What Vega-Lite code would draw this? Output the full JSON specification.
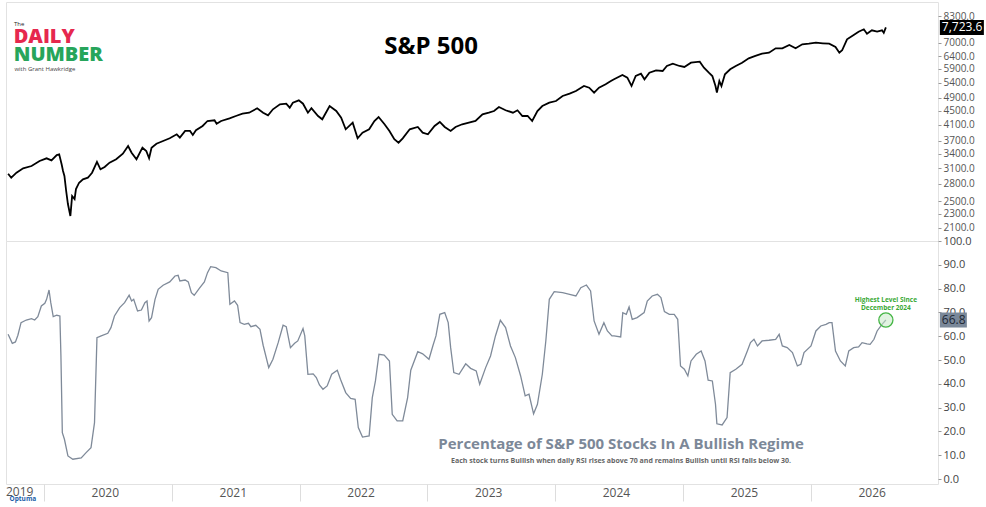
{
  "$schema": "https://vega.github.io/schema/vega-lite/v6.json",
  "padding": {"left": 3, "top": 1, "right": 0, "bottom": 0},
  "background": "white",
  "spacing": 0,
  "bounds": "flush",
  "config": {
    "font": "Open Sans",
    "view": {"stroke": "#e2e2e2"},
    "axis": {"grid": false, "domain": false, "title": null, "labelOverlap": false},
    "concat": {"spacing": 0}
  },
  "resolve": {"scale": {"x": "independent", "y": "independent"}},
  "datasets": {
    "spx": [
      {"date": "2019-09-21", "value": 2988}, {"date": "2019-09-30", "value": 2911}, {"date": "2019-10-15", "value": 3007},
      {"date": "2019-11-03", "value": 3094}, {"date": "2019-11-27", "value": 3141}, {"date": "2019-12-20", "value": 3245},
      {"date": "2020-01-09", "value": 3302}, {"date": "2020-01-23", "value": 3259}, {"date": "2020-02-07", "value": 3373},
      {"date": "2020-02-14", "value": 3389}, {"date": "2020-02-21", "value": 3176}, {"date": "2020-02-25", "value": 3041},
      {"date": "2020-02-29", "value": 2944}, {"date": "2020-03-05", "value": 2670}, {"date": "2020-03-10", "value": 2454},
      {"date": "2020-03-17", "value": 2270}, {"date": "2020-03-22", "value": 2585}, {"date": "2020-03-29", "value": 2535},
      {"date": "2020-04-02", "value": 2705}, {"date": "2020-04-11", "value": 2818}, {"date": "2020-04-22", "value": 2881},
      {"date": "2020-05-06", "value": 2911}, {"date": "2020-05-18", "value": 3007}, {"date": "2020-06-01", "value": 3224},
      {"date": "2020-06-11", "value": 3074}, {"date": "2020-06-23", "value": 3121}, {"date": "2020-07-07", "value": 3209},
      {"date": "2020-07-26", "value": 3281}, {"date": "2020-08-14", "value": 3402}, {"date": "2020-08-29", "value": 3576},
      {"date": "2020-09-08", "value": 3424}, {"date": "2020-09-22", "value": 3281}, {"date": "2020-10-09", "value": 3537},
      {"date": "2020-10-20", "value": 3462}, {"date": "2020-10-28", "value": 3302}, {"date": "2020-11-04", "value": 3537},
      {"date": "2020-11-18", "value": 3630}, {"date": "2020-12-07", "value": 3695}, {"date": "2020-12-26", "value": 3760},
      {"date": "2021-01-15", "value": 3859}, {"date": "2021-01-24", "value": 3775}, {"date": "2021-02-08", "value": 3943},
      {"date": "2021-02-22", "value": 3943}, {"date": "2021-03-02", "value": 3842}, {"date": "2021-03-11", "value": 3961},
      {"date": "2021-03-30", "value": 4073}, {"date": "2021-04-13", "value": 4207}, {"date": "2021-05-03", "value": 4226},
      {"date": "2021-05-09", "value": 4134}, {"date": "2021-05-22", "value": 4207}, {"date": "2021-06-15", "value": 4281},
      {"date": "2021-07-03", "value": 4346}, {"date": "2021-07-22", "value": 4411}, {"date": "2021-08-10", "value": 4440},
      {"date": "2021-09-02", "value": 4569}, {"date": "2021-09-19", "value": 4440}, {"date": "2021-10-03", "value": 4366},
      {"date": "2021-10-17", "value": 4539}, {"date": "2021-11-06", "value": 4689}, {"date": "2021-11-24", "value": 4707},
      {"date": "2021-12-04", "value": 4586}, {"date": "2021-12-13", "value": 4738}, {"date": "2021-12-30", "value": 4812},
      {"date": "2022-01-11", "value": 4707}, {"date": "2022-01-25", "value": 4440}, {"date": "2022-02-04", "value": 4569},
      {"date": "2022-02-23", "value": 4346}, {"date": "2022-03-07", "value": 4254}, {"date": "2022-03-28", "value": 4637},
      {"date": "2022-04-16", "value": 4489}, {"date": "2022-04-30", "value": 4298}, {"date": "2022-05-13", "value": 3986},
      {"date": "2022-06-02", "value": 4161}, {"date": "2022-06-16", "value": 3760}, {"date": "2022-06-30", "value": 3899},
      {"date": "2022-07-19", "value": 3986}, {"date": "2022-08-03", "value": 4207}, {"date": "2022-08-15", "value": 4318},
      {"date": "2022-09-01", "value": 4118}, {"date": "2022-09-15", "value": 3943}, {"date": "2022-09-29", "value": 3736},
      {"date": "2022-10-11", "value": 3654}, {"date": "2022-10-23", "value": 3760}, {"date": "2022-11-12", "value": 3986},
      {"date": "2022-12-05", "value": 4046}, {"date": "2022-12-19", "value": 3899}, {"date": "2023-01-03", "value": 3859},
      {"date": "2023-01-22", "value": 4073}, {"date": "2023-02-06", "value": 4180}, {"date": "2023-02-20", "value": 4046},
      {"date": "2023-03-09", "value": 3943}, {"date": "2023-03-23", "value": 4046}, {"date": "2023-04-11", "value": 4118},
      {"date": "2023-04-30", "value": 4161}, {"date": "2023-05-19", "value": 4207}, {"date": "2023-06-08", "value": 4394},
      {"date": "2023-06-26", "value": 4440}, {"date": "2023-07-11", "value": 4489}, {"date": "2023-07-25", "value": 4607},
      {"date": "2023-08-13", "value": 4510}, {"date": "2023-09-03", "value": 4440}, {"date": "2023-09-16", "value": 4510},
      {"date": "2023-09-30", "value": 4346}, {"date": "2023-10-15", "value": 4346}, {"date": "2023-10-28", "value": 4207},
      {"date": "2023-11-12", "value": 4489}, {"date": "2023-11-26", "value": 4637}, {"date": "2023-12-16", "value": 4738},
      {"date": "2024-01-04", "value": 4790}, {"date": "2024-01-23", "value": 4948}, {"date": "2024-02-12", "value": 5023},
      {"date": "2024-03-01", "value": 5112}, {"date": "2024-03-24", "value": 5281}, {"date": "2024-04-08", "value": 5222},
      {"date": "2024-04-22", "value": 5056}, {"date": "2024-05-06", "value": 5222}, {"date": "2024-05-25", "value": 5339},
      {"date": "2024-06-09", "value": 5455}, {"date": "2024-06-18", "value": 5515}, {"date": "2024-07-12", "value": 5671},
      {"date": "2024-07-26", "value": 5573}, {"date": "2024-08-07", "value": 5281}, {"date": "2024-08-19", "value": 5635},
      {"date": "2024-09-03", "value": 5719}, {"date": "2024-09-13", "value": 5515}, {"date": "2024-09-27", "value": 5757},
      {"date": "2024-10-16", "value": 5847}, {"date": "2024-11-04", "value": 5821}, {"date": "2024-11-16", "value": 6013},
      {"date": "2024-12-03", "value": 6103}, {"date": "2024-12-22", "value": 6013}, {"date": "2025-01-05", "value": 5974},
      {"date": "2025-01-24", "value": 6143}, {"date": "2025-02-18", "value": 6183}, {"date": "2025-03-02", "value": 5947},
      {"date": "2025-03-16", "value": 5757}, {"date": "2025-03-26", "value": 5635}, {"date": "2025-04-04", "value": 5281},
      {"date": "2025-04-08", "value": 5056}, {"date": "2025-04-15", "value": 5455}, {"date": "2025-04-21", "value": 5281},
      {"date": "2025-05-01", "value": 5697}, {"date": "2025-05-16", "value": 5885}, {"date": "2025-06-01", "value": 6013},
      {"date": "2025-06-19", "value": 6143}, {"date": "2025-07-08", "value": 6321}, {"date": "2025-07-27", "value": 6417},
      {"date": "2025-08-15", "value": 6513}, {"date": "2025-09-04", "value": 6555}, {"date": "2025-09-23", "value": 6745},
      {"date": "2025-10-12", "value": 6745}, {"date": "2025-11-01", "value": 6891}, {"date": "2025-11-19", "value": 6745},
      {"date": "2025-12-08", "value": 6923}, {"date": "2025-12-27", "value": 6950}, {"date": "2026-01-16", "value": 6995},
      {"date": "2026-02-05", "value": 6968}, {"date": "2026-02-23", "value": 6950}, {"date": "2026-03-13", "value": 6802},
      {"date": "2026-03-24", "value": 6555}, {"date": "2026-04-01", "value": 6658}, {"date": "2026-04-15", "value": 7151},
      {"date": "2026-05-04", "value": 7353}, {"date": "2026-05-18", "value": 7513}, {"date": "2026-06-02", "value": 7631},
      {"date": "2026-06-11", "value": 7416}, {"date": "2026-06-25", "value": 7582}, {"date": "2026-07-10", "value": 7513},
      {"date": "2026-07-24", "value": 7582}, {"date": "2026-07-29", "value": 7453}, {"date": "2026-08-04", "value": 7723.6}
    ],
    "bull": [
      {"date": "2019-09-21", "value": 60.8}, {"date": "2019-10-03", "value": 57.0}, {"date": "2019-10-12", "value": 57.6},
      {"date": "2019-10-19", "value": 60.4}, {"date": "2019-10-28", "value": 65.7}, {"date": "2019-11-12", "value": 66.8},
      {"date": "2019-11-27", "value": 67.4}, {"date": "2019-12-06", "value": 66.8}, {"date": "2019-12-15", "value": 68.2},
      {"date": "2019-12-25", "value": 72.7}, {"date": "2020-01-04", "value": 73.8}, {"date": "2020-01-09", "value": 75.5},
      {"date": "2020-01-16", "value": 79.4}, {"date": "2020-01-21", "value": 74.1}, {"date": "2020-01-28", "value": 68.2},
      {"date": "2020-02-07", "value": 68.8}, {"date": "2020-02-16", "value": 68.5}, {"date": "2020-02-19", "value": 51.7},
      {"date": "2020-02-23", "value": 19.5}, {"date": "2020-02-29", "value": 16.7}, {"date": "2020-03-10", "value": 9.7},
      {"date": "2020-03-24", "value": 8.3}, {"date": "2020-04-17", "value": 8.9}, {"date": "2020-05-01", "value": 11.1},
      {"date": "2020-05-15", "value": 13.2}, {"date": "2020-05-25", "value": 23.7}, {"date": "2020-06-01", "value": 59.4},
      {"date": "2020-06-13", "value": 60.1}, {"date": "2020-07-02", "value": 61.2}, {"date": "2020-07-11", "value": 63.6},
      {"date": "2020-07-21", "value": 68.5}, {"date": "2020-08-05", "value": 72.0}, {"date": "2020-08-19", "value": 74.1},
      {"date": "2020-09-01", "value": 77.2}, {"date": "2020-09-08", "value": 74.8}, {"date": "2020-09-14", "value": 75.5},
      {"date": "2020-09-25", "value": 70.6}, {"date": "2020-10-06", "value": 71.0}, {"date": "2020-10-16", "value": 74.1},
      {"date": "2020-10-22", "value": 74.8}, {"date": "2020-10-28", "value": 66.4}, {"date": "2020-11-04", "value": 67.8},
      {"date": "2020-11-14", "value": 75.5}, {"date": "2020-11-23", "value": 79.7}, {"date": "2020-12-07", "value": 81.4},
      {"date": "2020-12-26", "value": 82.8}, {"date": "2021-01-10", "value": 85.3}, {"date": "2021-01-19", "value": 85.6},
      {"date": "2021-01-24", "value": 83.2}, {"date": "2021-02-08", "value": 83.6}, {"date": "2021-02-17", "value": 82.8},
      {"date": "2021-02-26", "value": 78.3}, {"date": "2021-03-06", "value": 77.2}, {"date": "2021-03-20", "value": 80.0},
      {"date": "2021-04-04", "value": 82.8}, {"date": "2021-04-13", "value": 86.7}, {"date": "2021-04-22", "value": 89.2},
      {"date": "2021-05-07", "value": 88.8}, {"date": "2021-05-22", "value": 87.4}, {"date": "2021-06-10", "value": 86.7},
      {"date": "2021-06-16", "value": 73.4}, {"date": "2021-06-29", "value": 74.8}, {"date": "2021-07-08", "value": 73.0},
      {"date": "2021-07-15", "value": 65.7}, {"date": "2021-07-27", "value": 65.0}, {"date": "2021-08-08", "value": 65.4},
      {"date": "2021-08-15", "value": 64.0}, {"date": "2021-08-29", "value": 64.6}, {"date": "2021-09-10", "value": 62.9},
      {"date": "2021-09-19", "value": 56.2}, {"date": "2021-10-05", "value": 46.8}, {"date": "2021-10-17", "value": 50.3},
      {"date": "2021-11-01", "value": 57.3}, {"date": "2021-11-15", "value": 64.6}, {"date": "2021-11-24", "value": 64.0},
      {"date": "2021-12-06", "value": 55.2}, {"date": "2021-12-18", "value": 57.0}, {"date": "2021-12-27", "value": 58.0},
      {"date": "2022-01-11", "value": 63.2}, {"date": "2022-01-16", "value": 60.1}, {"date": "2022-01-25", "value": 44.0},
      {"date": "2022-02-09", "value": 44.2}, {"date": "2022-02-18", "value": 42.6}, {"date": "2022-02-27", "value": 39.5},
      {"date": "2022-03-09", "value": 37.7}, {"date": "2022-03-21", "value": 39.1}, {"date": "2022-04-03", "value": 44.0},
      {"date": "2022-04-19", "value": 45.7}, {"date": "2022-04-28", "value": 41.9}, {"date": "2022-05-13", "value": 36.3},
      {"date": "2022-05-27", "value": 33.9}, {"date": "2022-06-09", "value": 33.5}, {"date": "2022-06-18", "value": 21.6},
      {"date": "2022-06-30", "value": 17.6}, {"date": "2022-07-19", "value": 18.1}, {"date": "2022-07-28", "value": 34.2},
      {"date": "2022-08-06", "value": 41.2}, {"date": "2022-08-16", "value": 52.4}, {"date": "2022-08-31", "value": 52.1},
      {"date": "2022-09-15", "value": 49.6}, {"date": "2022-09-23", "value": 27.2}, {"date": "2022-10-07", "value": 24.4},
      {"date": "2022-10-23", "value": 24.4}, {"date": "2022-11-06", "value": 34.2}, {"date": "2022-11-15", "value": 45.7},
      {"date": "2022-12-05", "value": 53.5}, {"date": "2022-12-19", "value": 52.6}, {"date": "2023-01-06", "value": 50.3},
      {"date": "2023-01-17", "value": 55.9}, {"date": "2023-01-26", "value": 60.1}, {"date": "2023-02-06", "value": 69.2},
      {"date": "2023-02-20", "value": 69.9}, {"date": "2023-03-02", "value": 65.7}, {"date": "2023-03-09", "value": 55.2},
      {"date": "2023-03-18", "value": 44.7}, {"date": "2023-04-02", "value": 44.0}, {"date": "2023-04-21", "value": 48.4},
      {"date": "2023-05-05", "value": 46.5}, {"date": "2023-05-21", "value": 45.4}, {"date": "2023-05-31", "value": 39.8},
      {"date": "2023-06-17", "value": 46.8}, {"date": "2023-07-01", "value": 51.7}, {"date": "2023-07-15", "value": 60.1},
      {"date": "2023-07-29", "value": 66.7}, {"date": "2023-08-13", "value": 63.6}, {"date": "2023-08-27", "value": 55.9},
      {"date": "2023-09-10", "value": 51.0}, {"date": "2023-09-25", "value": 43.3}, {"date": "2023-10-08", "value": 34.9},
      {"date": "2023-10-19", "value": 35.6}, {"date": "2023-11-01", "value": 27.4}, {"date": "2023-11-12", "value": 31.4},
      {"date": "2023-11-26", "value": 44.0}, {"date": "2023-12-06", "value": 58.0}, {"date": "2023-12-16", "value": 75.5},
      {"date": "2023-12-30", "value": 78.7}, {"date": "2024-01-23", "value": 78.3}, {"date": "2024-02-12", "value": 77.6},
      {"date": "2024-03-01", "value": 76.9}, {"date": "2024-03-15", "value": 80.4}, {"date": "2024-03-31", "value": 81.5},
      {"date": "2024-04-12", "value": 79.0}, {"date": "2024-04-22", "value": 66.4}, {"date": "2024-05-06", "value": 60.8},
      {"date": "2024-05-20", "value": 65.7}, {"date": "2024-05-30", "value": 62.2}, {"date": "2024-06-12", "value": 60.1},
      {"date": "2024-06-18", "value": 60.1}, {"date": "2024-07-07", "value": 59.7}, {"date": "2024-07-13", "value": 69.9},
      {"date": "2024-07-23", "value": 69.2}, {"date": "2024-07-31", "value": 72.3}, {"date": "2024-08-09", "value": 67.1},
      {"date": "2024-08-23", "value": 67.8}, {"date": "2024-09-12", "value": 69.9}, {"date": "2024-09-21", "value": 74.8},
      {"date": "2024-10-05", "value": 76.9}, {"date": "2024-10-20", "value": 77.6}, {"date": "2024-10-30", "value": 76.2},
      {"date": "2024-11-09", "value": 70.3}, {"date": "2024-11-23", "value": 69.2}, {"date": "2024-12-07", "value": 69.2},
      {"date": "2024-12-17", "value": 67.1}, {"date": "2024-12-25", "value": 47.5}, {"date": "2025-01-05", "value": 46.1},
      {"date": "2025-01-15", "value": 43.3}, {"date": "2025-01-24", "value": 49.6}, {"date": "2025-02-08", "value": 52.4},
      {"date": "2025-02-22", "value": 53.8}, {"date": "2025-03-05", "value": 49.6}, {"date": "2025-03-14", "value": 41.5},
      {"date": "2025-03-26", "value": 41.2}, {"date": "2025-04-04", "value": 31.4}, {"date": "2025-04-08", "value": 23.2},
      {"date": "2025-04-23", "value": 22.7}, {"date": "2025-05-07", "value": 25.8}, {"date": "2025-05-16", "value": 44.7},
      {"date": "2025-06-01", "value": 46.1}, {"date": "2025-06-19", "value": 48.2}, {"date": "2025-07-04", "value": 53.8},
      {"date": "2025-07-13", "value": 57.3}, {"date": "2025-07-23", "value": 58.7}, {"date": "2025-08-02", "value": 55.9},
      {"date": "2025-08-15", "value": 58.0}, {"date": "2025-09-04", "value": 58.3}, {"date": "2025-09-23", "value": 58.7},
      {"date": "2025-10-03", "value": 60.8}, {"date": "2025-10-12", "value": 55.9}, {"date": "2025-10-26", "value": 55.2},
      {"date": "2025-11-10", "value": 53.1}, {"date": "2025-11-24", "value": 47.5}, {"date": "2025-12-04", "value": 48.2},
      {"date": "2025-12-13", "value": 53.1}, {"date": "2026-01-02", "value": 55.9}, {"date": "2026-01-16", "value": 62.2},
      {"date": "2026-01-30", "value": 64.3}, {"date": "2026-02-14", "value": 65.0}, {"date": "2026-02-23", "value": 65.7},
      {"date": "2026-03-03", "value": 65.7}, {"date": "2026-03-13", "value": 53.8}, {"date": "2026-03-27", "value": 49.6},
      {"date": "2026-04-10", "value": 47.5}, {"date": "2026-04-20", "value": 53.8}, {"date": "2026-05-04", "value": 55.2},
      {"date": "2026-05-18", "value": 55.5}, {"date": "2026-05-28", "value": 57.3}, {"date": "2026-06-11", "value": 56.8},
      {"date": "2026-06-20", "value": 56.6}, {"date": "2026-07-01", "value": 58.7}, {"date": "2026-07-10", "value": 62.2},
      {"date": "2026-07-24", "value": 65.0}, {"date": "2026-08-04", "value": 66.8}
    ]
  },
  "vconcat": [
    {
      "width": 932,
      "height": 239,
      "layer": [
        {
          "data": {"name": "spx"},
          "mark": {"type": "line", "color": "#000000", "strokeWidth": 1.8},
          "encoding": {
            "x": {"field": "date", "type": "temporal",
                  "scale": {"domain": [{"year": 2019, "month": 9, "date": 15}, {"year": 2026, "month": 12, "date": 31}]},
                  "axis": null},
            "y": {"field": "value", "type": "quantitative",
                  "scale": {"type": "log", "domain": [1930, 9110], "nice": false},
                  "axis": {"orient": "right", "values": [2100, 2300, 2500, 2800, 3100, 3400, 3700, 4100, 4500, 4900, 5400, 5900, 6400, 7000, 8300],
                           "format": ".1f", "labelFontSize": 10, "labelColor": "#555555", "tickSize": 3, "tickColor": "#999999", "labelPadding": 2,
                           "labelOverlap": false, "labelSeparation": 0}}
          }
        },
        {
          "data": {"name": "spx"},
          "transform": [{"filter": "datum.value == 7723.6"}],
          "mark": {"type": "point", "shape": "M5.4,-0.75H9.8V0.75H5.4Z", "size": 400, "filled": true, "fill": "#000000", "strokeWidth": 0, "opacity": 1},
          "encoding": {"x": {"field": "date", "type": "temporal"}, "y": {"field": "value", "type": "quantitative"}}
        },
        {
          "data": {"name": "spx"},
          "transform": [{"filter": "datum.value == 7723.6"}],
          "mark": {"type": "text", "align": "left", "baseline": "middle", "dx": 56, "fontSize": 12, "color": "#ffffff"},
          "encoding": {"x": {"field": "date", "type": "temporal"}, "y": {"field": "value", "type": "quantitative"},
                       "text": {"field": "value", "type": "quantitative", "format": ",.1f"}}
        },
        {
          "data": {"values": [{}]},
          "mark": {"type": "text", "text": "S&P 500", "fontSize": 24, "fontWeight": "bold", "color": "#000000", "align": "center", "baseline": "middle"},
          "encoding": {"x": {"datum": {"year": 2023, "month": 1, "date": 12}, "type": "temporal"}, "y": {"datum": 6803, "type": "quantitative"}}
        },
        {
          "data": {"values": [{}]},
          "mark": {"type": "text", "text": "The", "fontSize": 6, "color": "#222222", "align": "left", "baseline": "middle"},
          "encoding": {"x": {"datum": {"year": 2019, "month": 10, "date": 8}, "type": "temporal"}, "y": {"datum": 7900, "type": "quantitative"}}
        },
        {
          "data": {"values": [{}]},
          "mark": {"type": "text", "text": "DAILY", "fontSize": 20, "fontWeight": 800, "color": "#e6284e", "align": "left", "baseline": "middle"},
          "encoding": {"x": {"datum": {"year": 2019, "month": 10, "date": 7}, "type": "temporal"}, "y": {"datum": 7236, "type": "quantitative"}}
        },
        {
          "data": {"values": [{}]},
          "mark": {"type": "text", "text": "NUMBER", "fontSize": 20, "fontWeight": 800, "color": "#27a55b", "align": "left", "baseline": "middle"},
          "encoding": {"x": {"datum": {"year": 2019, "month": 10, "date": 7}, "type": "temporal"}, "y": {"datum": 6437, "type": "quantitative"}}
        },
        {
          "data": {"values": [{}]},
          "mark": {"type": "text", "text": "with Grant Hawkridge", "fontSize": 6, "color": "#444444", "align": "left", "baseline": "middle"},
          "encoding": {"x": {"datum": {"year": 2019, "month": 10, "date": 9}, "type": "temporal"}, "y": {"datum": 5900, "type": "quantitative"}}
        }
      ]
    },
    {
      "width": 932,
      "height": 243,
      "layer": [
        {
          "data": {"name": "bull"},
          "mark": {"type": "line", "color": "#7f8a99", "strokeWidth": 1.3},
          "encoding": {
            "x": {"field": "date", "type": "temporal",
                  "scale": {"domain": [{"year": 2019, "month": 9, "date": 15}, {"year": 2026, "month": 12, "date": 31}]},
                  "axis": {"values": [{"year": 2020, "month": 1, "date": 1}, {"year": 2021, "month": 1, "date": 1}, {"year": 2022, "month": 1, "date": 1},
                                      {"year": 2023, "month": 1, "date": 1}, {"year": 2024, "month": 1, "date": 1}, {"year": 2025, "month": 1, "date": 1},
                                      {"year": 2026, "month": 1, "date": 1}],
                           "format": "%Y", "labelOffset": 61, "tickSize": 17, "tickColor": "#dddddd", "labelPadding": -14,
                           "labelFontSize": 12, "labelColor": "#555555", "labelFlush": false, "labelOverlap": false}},
            "y": {"field": "value", "type": "quantitative",
                  "scale": {"domain": [-2.1, 100], "nice": false},
                  "axis": {"orient": "right", "tickCount": 11, "tickMinStep": 10, "format": ".1f",
                           "labelFontSize": 11, "labelColor": "#444444", "tickSize": 3, "tickColor": "#999999", "labelPadding": 2,
                           "labelOverlap": false, "labelSeparation": 0, "labelBound": false}}
          }
        },
        {
          "data": {"values": [{}]},
          "mark": {"type": "point", "shape": "circle", "size": 200, "filled": true, "fill": "#c8eac8", "fillOpacity": 0.55, "stroke": "#45b645", "strokeWidth": 1.3},
          "encoding": {"x": {"datum": {"year": 2026, "month": 8, "date": 4}, "type": "temporal"}, "y": {"datum": 66.8, "type": "quantitative"}}
        },
        {
          "data": {"name": "bull"},
          "transform": [{"filter": "year(datum.date) == 2026 && datum.value == 66.8"}],
          "mark": {"type": "point", "shape": "M5.4,-0.75H8.1V0.75H5.4Z", "size": 400, "filled": true, "fill": "#7a8899", "strokeWidth": 0, "opacity": 1},
          "encoding": {"x": {"field": "date", "type": "temporal"}, "y": {"field": "value", "type": "quantitative"}}
        },
        {
          "data": {"name": "bull"},
          "transform": [{"filter": "year(datum.date) == 2026 && datum.value == 66.8"}],
          "mark": {"type": "text", "align": "left", "baseline": "middle", "dx": 56, "fontSize": 12, "color": "#1d2733"},
          "encoding": {"x": {"field": "date", "type": "temporal"}, "y": {"field": "value", "type": "quantitative"},
                       "text": {"field": "value", "type": "quantitative", "format": ".1f"}}
        },
        {
          "data": {"values": [{}]},
          "mark": {"type": "text", "text": "Highest Level Since", "fontSize": 6.5, "fontWeight": "bold", "color": "#3aa935", "align": "center", "baseline": "middle"},
          "encoding": {"x": {"datum": {"year": 2026, "month": 8, "date": 4}, "type": "temporal"}, "y": {"datum": 75.2, "type": "quantitative"}}
        },
        {
          "data": {"values": [{}]},
          "mark": {"type": "text", "text": "December 2024", "fontSize": 6.5, "fontWeight": "bold", "color": "#3aa935", "align": "center", "baseline": "middle"},
          "encoding": {"x": {"datum": {"year": 2026, "month": 8, "date": 4}, "type": "temporal"}, "y": {"datum": 71.8, "type": "quantitative"}}
        },
        {
          "data": {"values": [{}]},
          "mark": {"type": "text", "text": "Percentage of S&P 500 Stocks In A Bullish Regime", "fontSize": 15, "fontWeight": "bold", "color": "#7c8898", "align": "center", "baseline": "middle"},
          "encoding": {"x": {"datum": {"year": 2024, "month": 7, "date": 8}, "type": "temporal"}, "y": {"datum": 14.7, "type": "quantitative"}}
        },
        {
          "data": {"values": [{}]},
          "mark": {"type": "text", "text": "Each stock turns Bullish when daily RSI rises above 70 and remains Bullish until RSI falls below 30.", "fontSize": 7, "fontWeight": "bold", "color": "#666666", "align": "center", "baseline": "middle"},
          "encoding": {"x": {"datum": {"year": 2024, "month": 7, "date": 8}, "type": "temporal"}, "y": {"datum": 7.6, "type": "quantitative"}}
        },
        {
          "data": {"values": [{}]},
          "mark": {"type": "text", "text": "2019", "fontSize": 12, "color": "#555555", "align": "center", "baseline": "middle"},
          "encoding": {"x": {"datum": {"year": 2019, "month": 10, "date": 24}, "type": "temporal"}, "y": {"datum": -5.6, "type": "quantitative"}}
        },
        {
          "data": {"values": [{}]},
          "mark": {"type": "text", "text": "Optuma", "fontSize": 6.5, "fontWeight": "bold", "color": "#1b5ea8", "align": "left", "baseline": "middle"},
          "encoding": {"x": {"datum": {"year": 2019, "month": 9, "date": 25}, "type": "temporal"}, "y": {"datum": -8.4, "type": "quantitative"}}
        }
      ]
    }
  ]
}
